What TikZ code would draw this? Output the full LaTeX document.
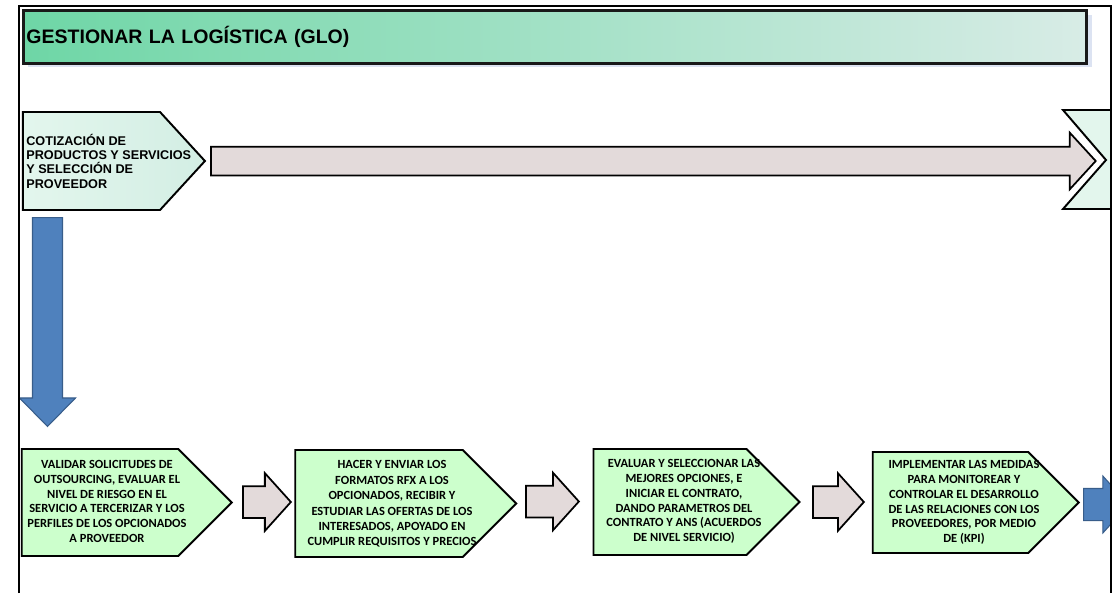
\documentclass[tikz,border=0pt]{standalone}
\usepackage{fontspec}
\usepackage{tikz}
\usetikzlibrary{shapes.symbols,shapes.arrows}
\newfontfamily\arialfont{Liberation Sans}
\newfontfamily\califont{Carlito}
\definecolor{chevgreen}{HTML}{CCFFCC}
\definecolor{mintlight}{HTML}{E3F6ED}
\definecolor{mintdark}{HTML}{D3EEE4}
\definecolor{arrgray}{HTML}{E3DADA}
\definecolor{arrblue}{HTML}{4F81BD}
\definecolor{arrblueline}{HTML}{385D8A}
\definecolor{hdgreen}{HTML}{6ED6A6}
\definecolor{hdpale}{HTML}{D8ECE6}
\definecolor{hdshadow}{HTML}{DCE3F2}

\begin{document}
\begin{tikzpicture}[x=0.02cm, y=-0.02cm,
    chev/.style = {signal, signal to=east, signal pointer angle=90, draw=black, line width=1.1pt, fill=chevgreen, inner sep=0pt},
    chevtext/.style = {align=center, inner sep=0pt, font=\califont\bfseries\fontsize{7.1}{8.4}\selectfont},
    grayarr/.style = {single arrow, anchor=tail, draw=black, line width=1pt, fill=arrgray, inner xsep=0pt, inner ysep=0.3cm, single arrow head extend=0.26cm, single arrow tip angle=96, minimum width=1.12cm},
    bluearr/.style = {single arrow, anchor=tail, draw=arrblueline, line width=0.6pt, fill=arrblue, inner xsep=0pt}]
  \useasboundingbox (0,0) rectangle (1115,593);
  % header
  \fill[hdshadow] (28,15) rectangle (1092,67);
  \node[anchor=north west, draw=black!90, line width=1.7pt, left color=hdgreen, right color=hdpale, minimum width=21.26cm, minimum height=1.06cm, text width=21.14cm, inner xsep=0.06cm, align=left, font=\arialfont\bfseries\fontsize{11.1}{13}\selectfont] (glo) at (22,9) {GESTIONAR LA LOGÍSTICA (GLO)};
  % top row
  \node[chev, signal pointer angle=95, left color=mintlight, right color=mintdark, minimum width=3.64cm, minimum height=1.96cm] (cot) at (91.5,161) {};
  \node[anchor=west, align=left, inner sep=0pt, font=\arialfont\bfseries\fontsize{7.2}{8.15}\selectfont] (cottext) at (26,161) {COTIZACIÓN DE\\PRODUCTOS Y SERVICIOS\\Y SELECCIÓN DE\\PROVEEDOR};
  \node[grayarr, inner ysep=0.27cm, single arrow head extend=0.28cm, single arrow tip angle=95, minimum width=1.1cm, minimum height=17.7cm] (big) at (210,161) {};
  \begin{scope}
    \clip (0,0) rectangle (1111,593);
    \draw[line width=1.1pt, fill=mintlight] (1063,110) -- (1125,110) -- (1125,209) -- (1063,209) -- (1106,160) -- cycle;
    \node[bluearr, inner ysep=0.31cm, single arrow head extend=0.25cm, single arrow tip angle=96, minimum width=1.12cm, minimum height=0.9cm] (nextarr) at (1083,504.5) {};
  \end{scope}
  % down arrow
  \node[bluearr, rotate=-90, inner ysep=0.29cm, single arrow head extend=0.26cm, single arrow tip angle=89, minimum width=1.1cm, minimum height=4.18cm] (down) at (47.5,217) {};
  % bottom row
  \node[chev, minimum width=4.2cm, minimum height=2.14cm] (valid) at (100,502.5) {};
  \node[chev, minimum width=4.42cm, minimum height=2.14cm] (rfx) at (379,503.5) {};
  \node[chev, minimum width=4.12cm, minimum height=2.12cm] (eval) at (670,502) {};
  \node[chev, minimum width=4.12cm, minimum height=2.02cm] (kpi) at (950.5,502.5) {};
  \node[chevtext] (validtext) at (107,501.5) {VALIDAR SOLICITUDES DE\\OUTSOURCING, EVALUAR EL\\NIVEL DE RIESGO EN EL\\SERVICIO A TERCERIZAR Y LOS\\PERFILES DE LOS OPCIONADOS\\A PROVEEDOR};
  \node[chevtext, font=\califont\bfseries\fontsize{7.1}{8.8}\selectfont] (rfxtext) at (392,504) {HACER Y ENVIAR LOS\\FORMATOS RFX A LOS\\OPCIONADOS, RECIBIR Y\\ESTUDIAR LAS OFERTAS DE LOS\\INTERESADOS, APOYADO EN\\CUMPLIR REQUISITOS Y PRECIOS};
  \node[chevtext] (evaltext) at (684,501.5) {EVALUAR Y SELECCIONAR LAS\\MEJORES OPCIONES, E\\INICIAR EL CONTRATO,\\DANDO PARAMETROS DEL\\CONTRATO Y ANS (ACUERDOS\\DE NIVEL SERVICIO)};
  \node[chevtext] (kpitext) at (964,502.5) {IMPLEMENTAR LAS MEDIDAS\\PARA MONITOREAR Y\\CONTROLAR EL DESARROLLO\\DE LAS RELACIONES CON LOS\\PROVEEDORES, POR MEDIO\\DE (KPI)};
  \node[grayarr, minimum height=0.96cm] (a1) at (242,502) {};
  \node[grayarr, minimum height=1.06cm] (a2) at (525,501.5) {};
  \node[grayarr, minimum height=1.02cm] (a3) at (812,502) {};
  % frame
  \draw[line width=0.9pt] (19,593) -- (19,6) -- (1111,6) -- (1111,593);
\end{tikzpicture}
\end{document}
